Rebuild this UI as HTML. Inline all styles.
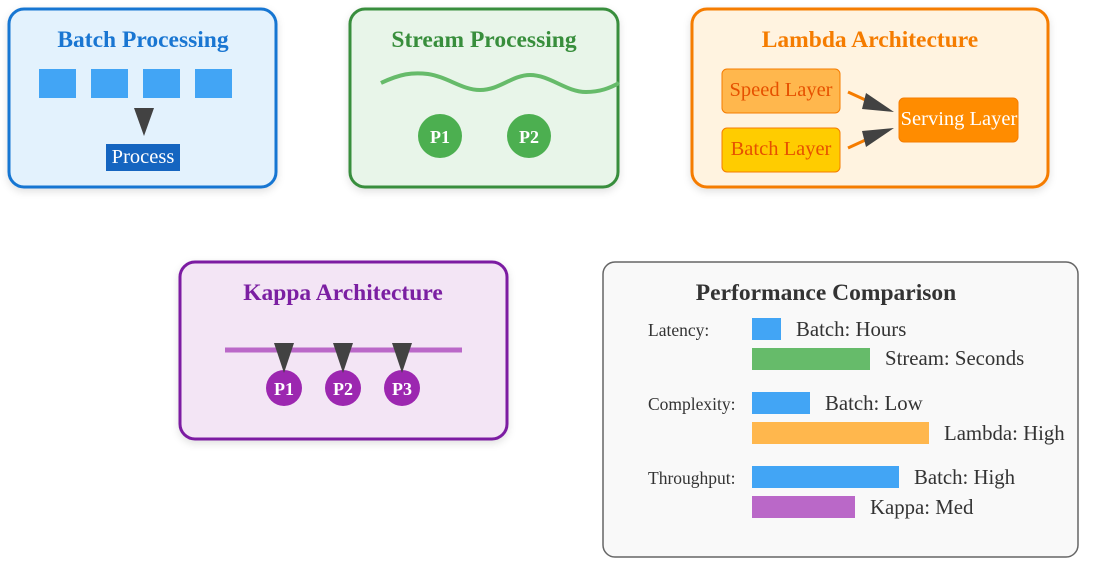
<!DOCTYPE html>
<html><head><meta charset="utf-8"><style>body{margin:0;background:#fff}svg{display:block}</style></head><body>
<svg width="1099" height="573" viewBox="0 0 1099 573" xmlns="http://www.w3.org/2000/svg" font-family="'Liberation Serif', serif">
<defs><filter id="sh" x="-10%" y="-10%" width="120%" height="130%"><feDropShadow dx="0" dy="3" stdDeviation="4" flood-color="#000" flood-opacity="0.12"/></filter></defs>
<!-- Batch -->
<rect x="9" y="9" width="267" height="178" rx="15" fill="#e3f2fd" stroke="#1976d2" stroke-width="3" filter="url(#sh)"/>
<text x="143" y="47" text-anchor="middle" font-size="23.5" font-weight="bold" fill="#1976d2">Batch Processing</text>
<rect x="39" y="69" width="37" height="29" fill="#42a5f5"/>
<rect x="91" y="69" width="37" height="29" fill="#42a5f5"/>
<rect x="143" y="69" width="37" height="29" fill="#42a5f5"/>
<rect x="195" y="69" width="37" height="29" fill="#42a5f5"/>
<polygon points="134,108 154,108 144,136" fill="#424242"/>
<rect x="106" y="144" width="74" height="27" fill="#1565c0"/>
<text x="143" y="163" text-anchor="middle" font-size="20.5" fill="#fff">Process</text>
<!-- Stream -->
<rect x="350" y="9" width="268" height="178" rx="15" fill="#e8f5e9" stroke="#388e3c" stroke-width="3" filter="url(#sh)"/>
<text x="484" y="47" text-anchor="middle" font-size="23.5" font-weight="bold" fill="#388e3c">Stream Processing</text>
<path d="M381,83 C400,74 412,72 428,74 C448,77 462,90 480,90 C500,90 512,75 530,75 C550,75 566,92 586,92 C600,92 610,88 619,83" fill="none" stroke="#66bb6a" stroke-width="4"/>
<circle cx="440" cy="136" r="22" fill="#4caf50"/>
<text x="440" y="143" text-anchor="middle" font-size="18" font-weight="bold" fill="#fff">P1</text>
<circle cx="529" cy="136" r="22" fill="#4caf50"/>
<text x="529" y="143" text-anchor="middle" font-size="18" font-weight="bold" fill="#fff">P2</text>
<!-- Lambda -->
<rect x="692" y="9" width="356" height="178" rx="15" fill="#fff3e0" stroke="#f57c00" stroke-width="3" filter="url(#sh)"/>
<text x="870" y="47" text-anchor="middle" font-size="23.5" font-weight="bold" fill="#f57c00">Lambda Architecture</text>
<rect x="722" y="69" width="118" height="44" rx="5" fill="#ffb74d" stroke="#f57c00"/>
<text x="781" y="96" text-anchor="middle" font-size="20.5" fill="#e65100">Speed Layer</text>
<rect x="722" y="128" width="118" height="44" rx="5" fill="#ffcc00" stroke="#f57c00"/>
<text x="781" y="155" text-anchor="middle" font-size="20.5" fill="#e65100">Batch Layer</text>
<rect x="899" y="98" width="119" height="44" rx="5" fill="#ff8c00" stroke="#f57c00"/>
<text x="959" y="125" text-anchor="middle" font-size="20.5" fill="#fff">Serving Layer</text>
<line x1="848" y1="92" x2="872" y2="103" stroke="#f57c00" stroke-width="3"/>
<polygon points="866,93 894,112 862,109" fill="#424242"/>
<line x1="848" y1="148" x2="872" y2="137" stroke="#f57c00" stroke-width="3"/>
<polygon points="862,131 894,128 866,147" fill="#424242"/>
<!-- Kappa -->
<rect x="180" y="262" width="327" height="177" rx="15" fill="#f3e5f5" stroke="#7b1fa2" stroke-width="3" filter="url(#sh)"/>
<text x="343" y="300" text-anchor="middle" font-size="23.5" font-weight="bold" fill="#7b1fa2">Kappa Architecture</text>
<line x1="225" y1="350" x2="462" y2="350" stroke="#ba68c8" stroke-width="5"/>
<circle cx="284" cy="388" r="18" fill="#9c27b0"/>
<circle cx="343" cy="388" r="18" fill="#9c27b0"/>
<circle cx="402" cy="388" r="18" fill="#9c27b0"/>
<polygon points="274,343 294,343 284,373" fill="#424242"/>
<polygon points="333,343 353,343 343,373" fill="#424242"/>
<polygon points="392,343 412,343 402,373" fill="#424242"/>
<text x="284" y="395" text-anchor="middle" font-size="18" font-weight="bold" fill="#fff">P1</text>
<text x="343" y="395" text-anchor="middle" font-size="18" font-weight="bold" fill="#fff">P2</text>
<text x="402" y="395" text-anchor="middle" font-size="18" font-weight="bold" fill="#fff">P3</text>
<!-- Perf -->
<rect x="603" y="262" width="475" height="295" rx="12" fill="#f9f9f9" stroke="#666" stroke-width="1.5"/>
<text x="826" y="300" text-anchor="middle" font-size="23.5" font-weight="bold" fill="#333">Performance Comparison</text>
<g font-size="17.5" fill="#333">
<text x="648" y="336">Latency:</text>
<text x="648" y="410">Complexity:</text>
<text x="648" y="484">Throughput:</text>
</g>
<rect x="752" y="318" width="29" height="22" fill="#42a5f5"/>
<rect x="752" y="348" width="118" height="22" fill="#66bb6a"/>
<rect x="752" y="392" width="58" height="22" fill="#42a5f5"/>
<rect x="752" y="422" width="177" height="22" fill="#ffb74d"/>
<rect x="752" y="466" width="147" height="22" fill="#42a5f5"/>
<rect x="752" y="496" width="103" height="22" fill="#ba68c8"/>
<g font-size="20.8" fill="#333">
<text x="796" y="336">Batch: Hours</text>
<text x="885" y="365">Stream: Seconds</text>
<text x="825" y="410">Batch: Low</text>
<text x="944" y="440">Lambda: High</text>
<text x="914" y="484">Batch: High</text>
<text x="870" y="514">Kappa: Med</text>
</g>
</svg>
</body></html>
